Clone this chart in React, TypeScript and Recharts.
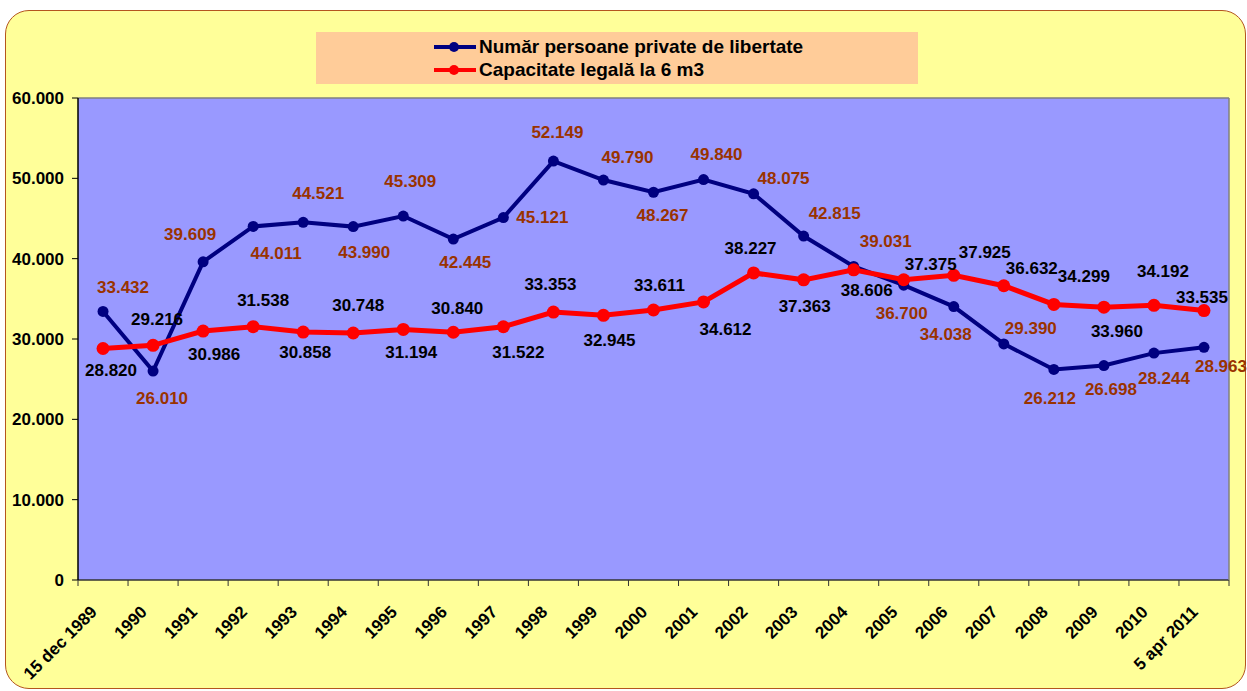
import { LineChart, Line, XAxis, YAxis, CartesianGrid, LabelList } from 'recharts'

const categories = [
  '15 dec 1989', '1990', '1991', '1992', '1993', '1994', '1995', '1996', '1997', '1998', '1999',
  '2000', '2001', '2002', '2003', '2004', '2005', '2006', '2007', '2008', '2009', '2010', '5 apr 2011',
]
const detinuti = [
  33432, 26010, 39609, 44011, 44521, 43990, 45309, 42445, 45121, 52149, 49790,
  48267, 49840, 48075, 42815, 39031, 36700, 34038, 29390, 26212, 26698, 28244, 28963,
]
const capacitate = [
  28820, 29216, 30986, 31538, 30858, 30748, 31194, 30840, 31522, 33353, 32945,
  33611, 34612, 38227, 37363, 38606, 37375, 37925, 36632, 34299, 33960, 34192, 33535,
]
const yTicks = [0, 10000, 20000, 30000, 40000, 50000, 60000]

const seriesNames = ['Număr persoane private de libertate', 'Capacitate legală la 6 m3']

// label placement (dx, dy of the text centre from the point), as Excel left them
const blueLabelPos = [
  [20, -24], [9, 27], [-13, -28], [23, 27], [15, -29], [11, 25], [7, -35], [12, 23], [39, -1], [4, -29], [24, -23],
  [9, 23], [13, -26], [30, -16], [31, -23], [32, -25], [-2, 28], [-8, 27], [27, -16], [-4, 29], [7, 23], [10, 25], [17, 19],
]
const redLabelPos = [
  [8, 22], [4, -26], [11, 23], [10, -27], [2, 20], [5, -28], [8, 23], [4, -24], [15, 25], [-3, -28], [6, 25],
  [6, -25], [22, 27], [-3, -25], [1, 26], [13, 20], [27, -16], [31, -23], [28, -18], [30, -28], [13, 24], [9, -34], [-2, -14],
]

const data = categories.map((cat, i) => ({ cat, detinuti: detinuti[i], capacitate: capacitate[i] }))

const W = 1247
const H = 691
const M = { top: 97, right: 17, bottom: 110, left: 0 }
const Y_AXIS_W = 78
const BAND = (W - Y_AXIS_W - 18) / categories.length
const FONT = 'Arial, "Liberation Sans", sans-serif'

const fmt = (v: number) => (v === 0 ? '0' : String(v).replace(/\B(?=(\d{3})+(?!\d))/g, '.'))

function makeLabel(pos: number[][], color: string) {
  return (props: any) => {
    const { x, y, value, index } = props
    const [dx, dy] = pos[index] ?? [0, -20]
    return (
      <text
        x={x + dx}
        y={y + dy + 6}
        textAnchor="middle"
        fill={color}
        fontSize={17}
        fontWeight="bold"
        fontFamily={FONT}
      >
        {fmt(value)}
      </text>
    )
  }
}

function XTick(props: any) {
  const { x, y, payload, index } = props
  const left = x - BAND / 2
  const right = x + BAND / 2
  return (
    <g>
      <line x1={left} y1={y} x2={left} y2={y + 6} stroke="#333" strokeWidth={1} />
      {index === categories.length - 1 && (
        <line x1={right} y1={y} x2={right} y2={y + 6} stroke="#333" strokeWidth={1} />
      )}
      <text
        x={x - 5}
        y={y + 33}
        transform={`rotate(-45, ${x - 5}, ${y + 33})`}
        textAnchor="end"
        fill="#000"
        fontSize={17}
        fontWeight="bold"
        fontFamily={FONT}
      >
        {payload.value}
      </text>
    </g>
  )
}

function LegendBox() {
  const rows = [
    { name: seriesNames[0], color: '#000080' },
    { name: seriesNames[1], color: '#FF0000' },
  ]
  return (
    <div
      style={{
        position: 'absolute',
        left: 316,
        top: 32,
        width: 602,
        height: 52,
        background: '#FFCC99',
        fontFamily: FONT,
        fontWeight: 'bold',
        fontSize: 19,
        color: '#000',
      }}
    >
      {rows.map((r, i) => (
        <div
          key={r.name}
          style={{ position: 'absolute', left: 117, top: 3 + i * 23, height: 23, display: 'flex', alignItems: 'center' }}
        >
          <svg width={44} height={14} style={{ marginRight: 2 }}>
            <line x1={1} y1={7} x2={43} y2={7} stroke={r.color} strokeWidth={4} />
            <circle cx={21} cy={7} r={5} fill={r.color} />
          </svg>
          <span style={{ whiteSpace: 'nowrap' }}>{r.name}</span>
        </div>
      ))}
    </div>
  )
}

export default function App() {
  return (
    <div style={{ position: 'absolute', left: 0, top: 0, width: W, height: H, overflow: 'hidden' }}>
      <div
        style={{
          position: 'absolute',
          left: 5,
          top: 10,
          width: 1241,
          height: 679,
          boxSizing: 'border-box',
          border: '1.5px solid #B4561E',
          borderRadius: 24,
          background: '#FFFF99',
        }}
      />
      <LineChart width={W} height={H} data={data} margin={M} style={{ position: 'absolute', left: 0, top: 0 }}>
        <CartesianGrid fill="#9999FF" horizontal={false} vertical={false} />
        <XAxis
          dataKey="cat"
          interval={0}
          padding={{ left: BAND / 2, right: BAND / 2 }}
          tickLine={false}
          tickSize={0}
          tickMargin={0}
          tick={<XTick />}
          axisLine={{ stroke: '#333', strokeWidth: 1.5 }}
          height={1}
        />
        <XAxis
          xAxisId="top"
          dataKey="cat"
          orientation="top"
          tick={false}
          tickLine={false}
          height={1}
          axisLine={{ stroke: '#808080', strokeWidth: 1.5 }}
        />
        <YAxis
          domain={[0, 60000]}
          ticks={yTicks}
          tickFormatter={fmt}
          width={Y_AXIS_W}
          tickSize={6}
          tickMargin={8}
          tickLine={{ stroke: '#000' }}
          axisLine={{ stroke: '#000', strokeWidth: 1.5 }}
          tick={{ fill: '#000', fontSize: 17, fontWeight: 'bold', fontFamily: FONT }}
        />
        <YAxis
          yAxisId="right"
          orientation="right"
          width={1}
          tick={false}
          tickLine={false}
          axisLine={{ stroke: '#808080', strokeWidth: 1.5 }}
        />
        <Line
          dataKey="detinuti"
          name={seriesNames[0]}
          stroke="#000080"
          strokeWidth={4}
          dot={{ r: 5.5, fill: '#000080', stroke: '#000080', strokeWidth: 0 }}
          isAnimationActive={false}
        >
          <LabelList dataKey="detinuti" content={makeLabel(blueLabelPos, '#993300')} />
        </Line>
        <Line
          dataKey="capacitate"
          name={seriesNames[1]}
          stroke="#FF0000"
          strokeWidth={5}
          dot={{ r: 6.5, fill: '#FF0000', stroke: '#FF0000', strokeWidth: 0 }}
          isAnimationActive={false}
        >
          <LabelList dataKey="capacitate" content={makeLabel(redLabelPos, '#000')} />
        </Line>
      </LineChart>
      <LegendBox />
    </div>
  )
}
